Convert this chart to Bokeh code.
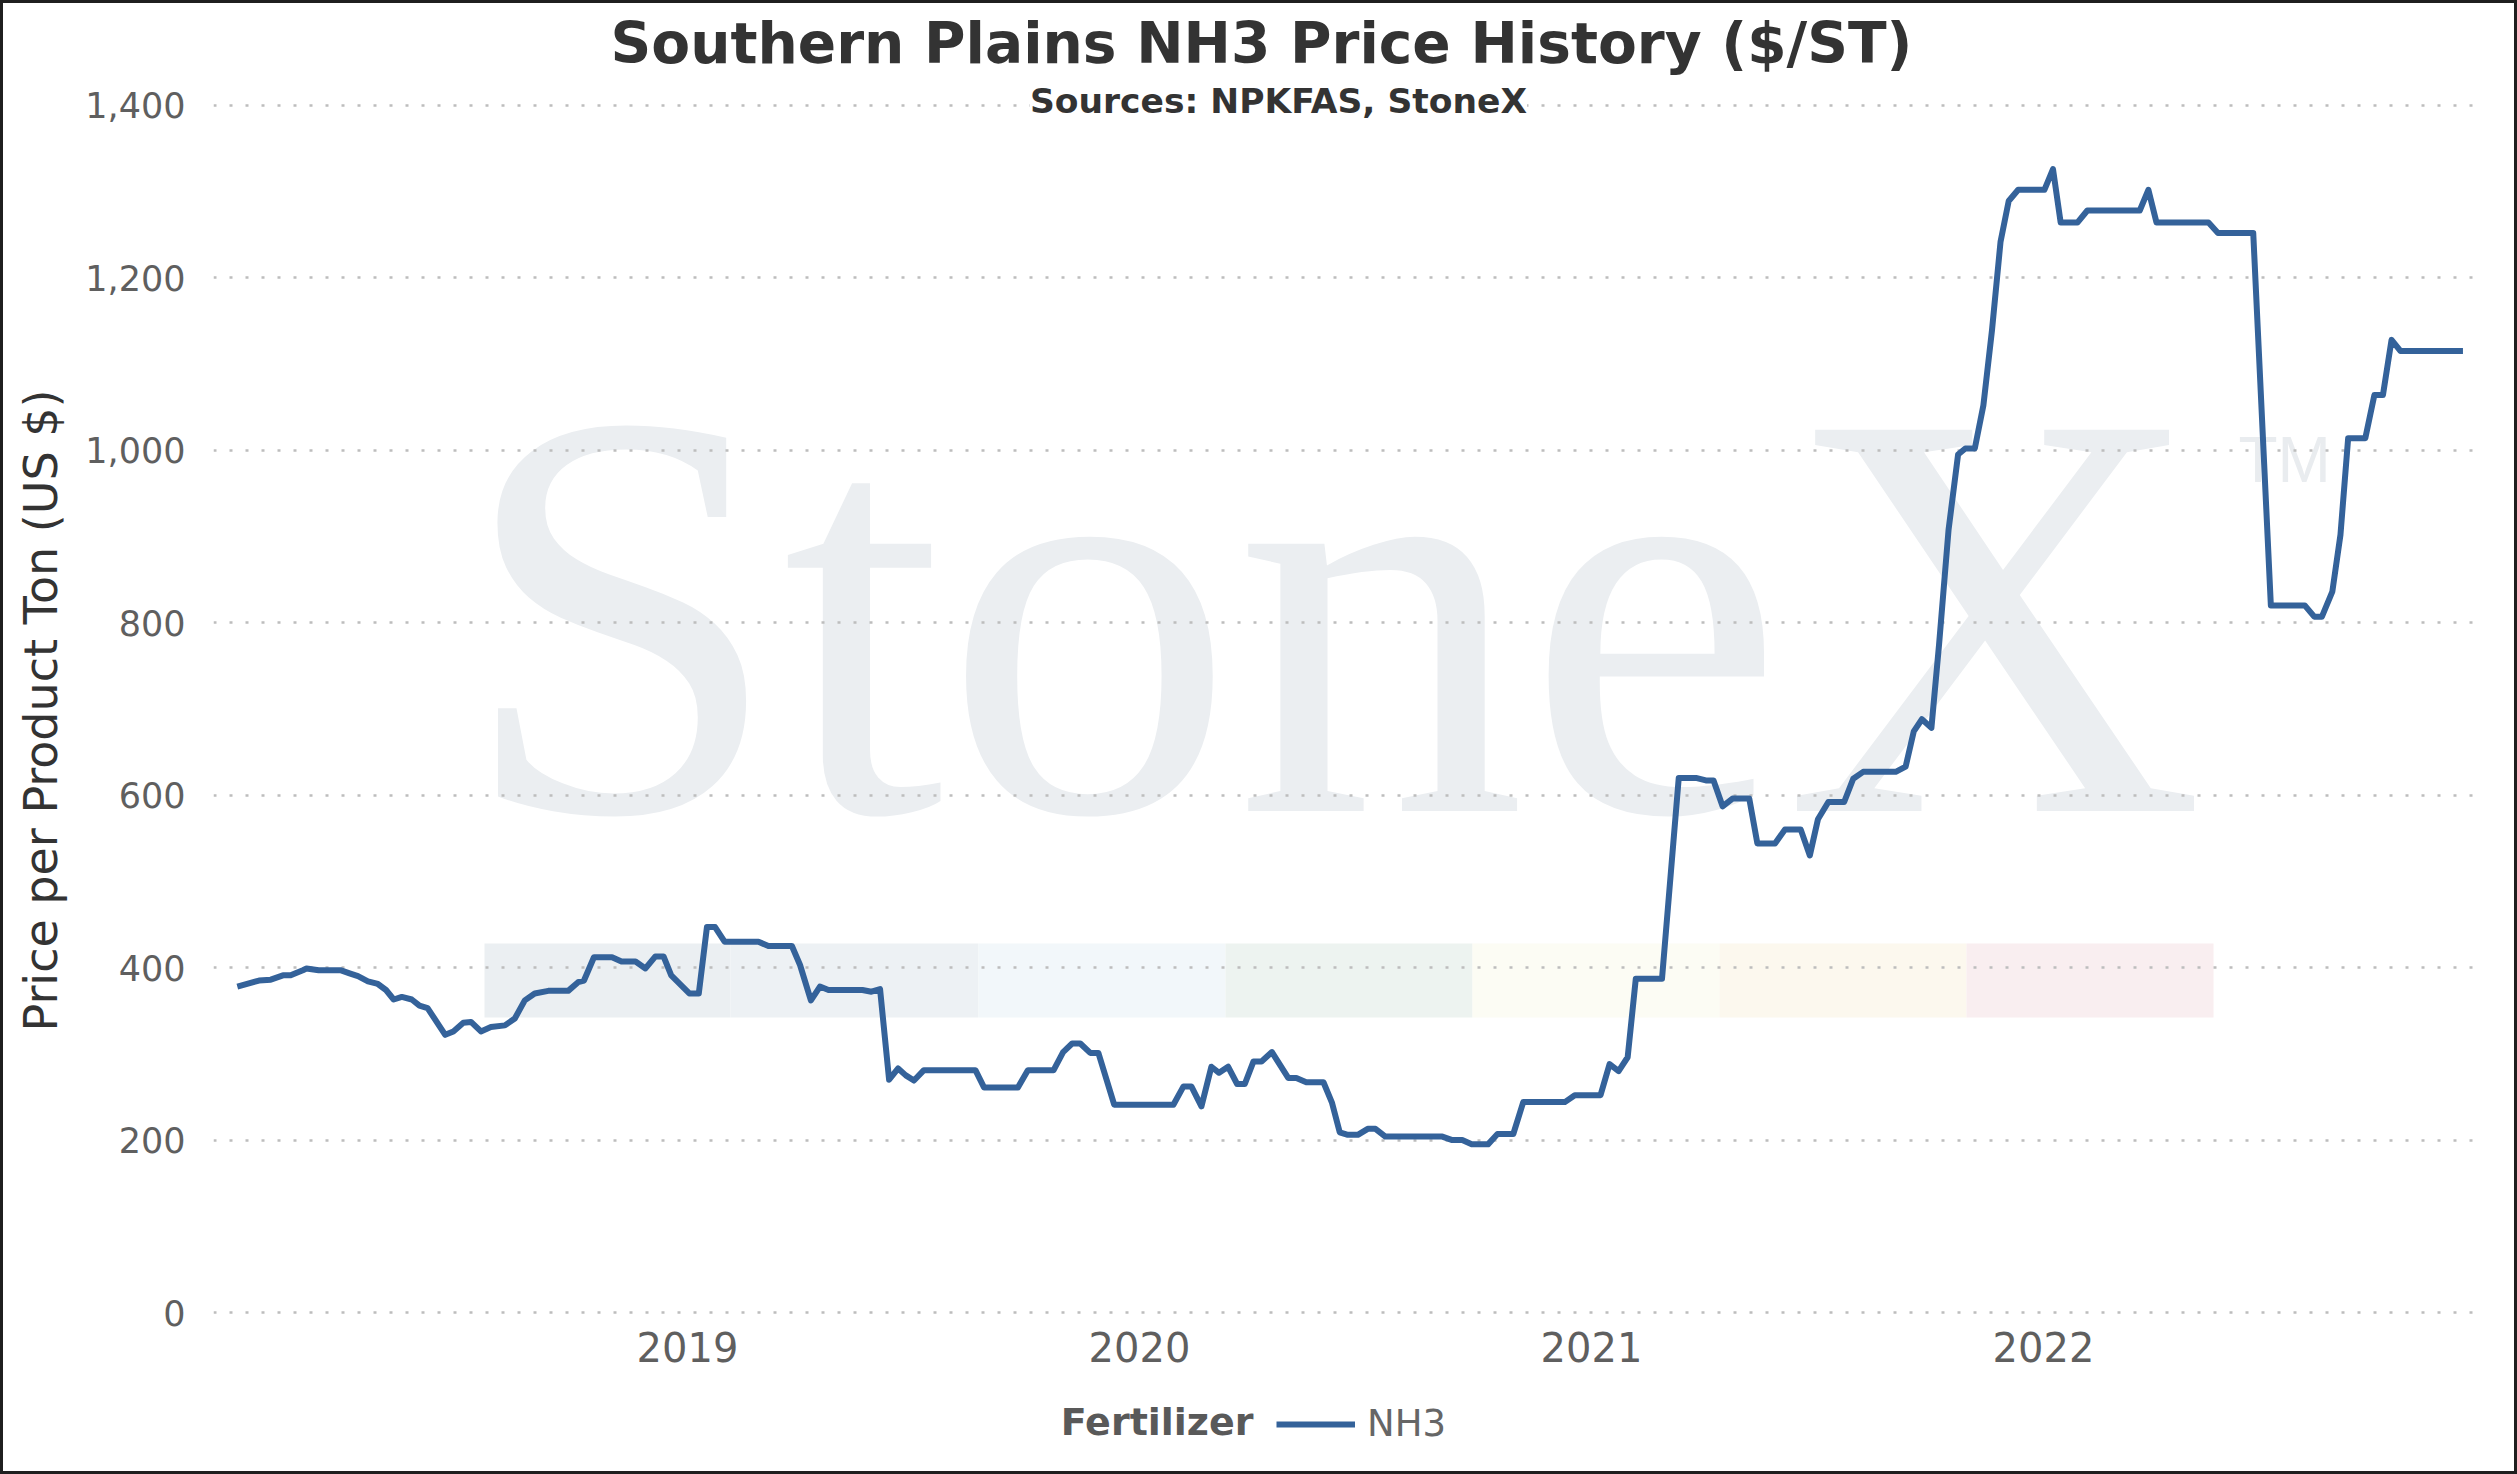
from bokeh.plotting import figure
from bokeh.layouts import column
from bokeh.models import (Range1d, FixedTicker, NumeralTickFormatter, Label, Legend, LegendItem, Title)
from bokeh.core.properties import value
from bokeh.embed import file_html
from bokeh.resources import INLINE

# ---------------- data ----------------
# x = date as fractional year, y = $/ST
year_frac = [
    2018.004, 2018.052, 2018.078, 2018.105, 2018.122, 2018.149, 2018.157, 2018.184, 2018.232, 2018.254,
    2018.271, 2018.293, 2018.315, 2018.333, 2018.350, 2018.368, 2018.390, 2018.407, 2018.425, 2018.464,
    2018.482, 2018.504, 2018.521, 2018.543, 2018.565, 2018.596, 2018.618, 2018.640, 2018.662, 2018.692,
    2018.736, 2018.758, 2018.771, 2018.793, 2018.833, 2018.854, 2018.885, 2018.907, 2018.929, 2018.947,
    2018.964, 2019.004, 2019.025, 2019.043, 2019.061, 2019.082, 2019.157, 2019.179, 2019.231, 2019.249,
    2019.273, 2019.293, 2019.312, 2019.387, 2019.407, 2019.426, 2019.446, 2019.466, 2019.483, 2019.501,
    2019.523, 2019.637, 2019.656, 2019.731, 2019.753, 2019.810, 2019.831, 2019.851, 2019.869, 2019.891,
    2019.909, 2019.944, 2020.075, 2020.097, 2020.115, 2020.137, 2020.159, 2020.176, 2020.196, 2020.216,
    2020.233, 2020.252, 2020.270, 2020.293, 2020.329, 2020.347, 2020.369, 2020.407, 2020.426, 2020.443,
    2020.461, 2020.483, 2020.505, 2020.522, 2020.544, 2020.670, 2020.692, 2020.714, 2020.735, 2020.771,
    2020.792, 2020.827, 2020.849, 2020.941, 2020.963, 2021.020, 2021.040, 2021.060, 2021.080, 2021.098,
    2021.156, 2021.193, 2021.231, 2021.253, 2021.270, 2021.290, 2021.312, 2021.349, 2021.367, 2021.406,
    2021.428, 2021.463, 2021.483, 2021.501, 2021.524, 2021.559, 2021.579, 2021.601, 2021.673, 2021.695,
    2021.713, 2021.731, 2021.752, 2021.769, 2021.790, 2021.811, 2021.827, 2021.848, 2021.867, 2021.886,
    2021.905, 2021.923, 2021.944, 2022.002, 2022.021, 2022.038, 2022.075, 2022.097, 2022.213, 2022.232,
    2022.250, 2022.365, 2022.386, 2022.464, 2022.503, 2022.578, 2022.599, 2022.616, 2022.639, 2022.657,
    2022.674, 2022.712, 2022.732, 2022.751, 2022.770, 2022.790, 2022.928,
]
nh3_price = [
    378, 385, 386, 391, 391, 397, 399, 397, 397, 393,
    390, 384, 381, 374, 363, 366, 363, 356, 353, 322,
    326, 336, 337, 326, 331, 333, 341, 362, 370, 373,
    373, 383, 385, 412, 412, 407, 407, 399, 413, 413,
    391, 370, 370, 447, 447, 430, 430, 425, 425, 403,
    362, 378, 374, 374, 372, 375, 270, 283, 275, 269,
    281, 281, 261, 261, 281, 281, 302, 312, 312, 301,
    301, 241, 241, 262, 262, 239, 285, 278, 285, 265,
    265, 291, 291, 302, 272, 272, 267, 267, 243, 209,
    206, 206, 213, 213, 204, 204, 200, 200, 195, 195,
    207, 207, 244, 244, 252, 252, 288, 280, 296, 387,
    387, 620, 620, 617, 617, 587, 596, 596, 544, 544,
    560, 560, 530, 572, 592, 592, 619, 627, 627, 633,
    674, 688, 678, 775, 908, 995, 1002, 1002, 1052, 1139,
    1242, 1289, 1302, 1302, 1326, 1264, 1264, 1278, 1278, 1302,
    1264, 1264, 1252, 1252, 820, 820, 807, 807, 836, 902,
    1014, 1014, 1064, 1064, 1128, 1115, 1115,
]
series_name = "NH3"
legend_title = "Fertilizer"
year_ticks = [2019, 2020, 2021, 2022]
price_ticks = [0, 200, 400, 600, 800, 1000, 1200, 1400]
title_text = "Southern Plains NH3 Price History ($/ST)"
subtitle_text = "Sources: NPKFAS, StoneX"
y_label = "Price per Product Ton (US $)"
watermark_text = "StoneX"
stripe_colors = ["#EBEFF2", "#EDF1F4", "#F2F7FA", "#EDF3F0", "#FCFCF4", "#FCF8EE", "#F9EEF0"]

LINE_COLOR = "#34629A"

# ---------------- layout geometry (page px) ----------------
PAGE_W, PAGE_H = 2517, 1474
B = 3                          # page border width
W = PAGE_W - 2 * B             # figure widths
SPLIT = 1386                   # page y where the legend strip starts
H1 = SPLIT - B                 # main figure height
H2 = PAGE_H - B - SPLIT        # legend strip height
FL, FR, FT, FB = 213, 2482, 80, 1340   # frame edges, page px
PPY = 452.0                    # px per year
X2019 = 687.0                  # page px of 2019 tick
ZERO = 1312.0                  # page px of y = 0
PPU = (ZERO - 104.8) / 1400.0  # px per $ unit

x0 = 2019 - (X2019 - FL) / PPY
x1 = 2019 + (FR - X2019) / PPY
y0 = -(FB - ZERO) / PPU
y1 = (ZERO - FT) / PPU


def dx(px):
    return x0 + (px - FL) / PPY


def dy(py):
    return (ZERO - py) / PPU


MID = 0.3386   # 'middle' text baseline offset (em) above the alphabetic baseline

title = Title(text=title_text, align="left", offset=397, standoff=9,
              text_font="DejaVu Sans", text_font_style="bold", text_font_size="56.6px",
              text_color="#333333")

p = figure(width=W, height=H1, output_backend="svg", toolbar_location=None, title=title,
           x_range=Range1d(x0, x1), y_range=Range1d(y0, y1),
           min_border_left=FL - B, min_border_right=(B + W) - FR, min_border_top=FT - B,
           min_border_bottom=SPLIT - FB, background_fill_color="white",
           border_fill_color="white", outline_line_color=None)

# watermark (decoration, under the grid)
sx = [484, 730, 978, 1225, 1472, 1719, 1966, 2213]
p.quad(left=[dx(v) for v in sx[:-1]], right=[dx(v) for v in sx[1:]],
       top=dy(943), bottom=dy(1017), fill_color=stripe_colors,
       line_color=None, level="image")
WM = 582
p.text(x=[dx(458)], y=[dy(811 - MID * WM)], text=[watermark_text],
       text_font=value("Liberation Serif"), text_font_size=value(f"{WM}px"),
       text_color="#EBEEF1", text_align="left", text_baseline="middle", level="image")
TMS = 64
p.text(x=[dx(2238)], y=[dy(481 - MID * TMS)], text=["TM"], text_font=value("Liberation Sans"),
       text_font_size=value(f"{TMS}px"), text_color="#E9ECEF", text_align="left",
       text_baseline="middle", level="image")

# data line
r = p.line(year_frac, nh3_price, line_color=LINE_COLOR, line_width=6, line_join="round")

# axes
p.xaxis.ticker = FixedTicker(ticks=year_ticks)
p.yaxis.ticker = FixedTicker(ticks=price_ticks)
p.yaxis.formatter = NumeralTickFormatter(format="0,0")
for ax in (p.xaxis, p.yaxis):
    ax.axis_line_color = None
    ax.major_tick_line_color = None
    ax.minor_tick_line_color = None
    ax.major_tick_out = 0
    ax.major_tick_in = 0
    ax.major_label_text_font = "DejaVu Sans"
    ax.major_label_text_color = "#5F5F5F"
p.yaxis.major_label_text_font_size = "35px"
p.xaxis.major_label_text_font_size = "40px"
p.yaxis.major_label_standoff = 28
p.xaxis.major_label_standoff = 15 - (FB - 1316)
p.yaxis.axis_label = y_label
p.yaxis.axis_label_text_font = "DejaVu Sans"
p.yaxis.axis_label_text_font_style = "normal"
p.yaxis.axis_label_text_font_size = "46px"
p.yaxis.axis_label_text_color = "#333333"
p.yaxis.axis_label_standoff = 14

p.xgrid.grid_line_color = None
p.ygrid.grid_line_color = "#BDBDBD"
p.ygrid.grid_line_width = 2.5
p.ygrid.grid_line_dash = "3 13"

p.add_layout(Label(x=dx(1278), y=dy(100.2), text=subtitle_text, text_align="center",
                   text_baseline="middle", text_font="DejaVu Sans", text_font_style="bold",
                   text_font_size="34.5px", text_color="#333333",
                   background_fill_color="white"))

# ---------------- legend strip (frame aligned with the main plot) ----------------
p2 = figure(width=W, height=H2, output_backend="svg", toolbar_location=None, title=None,
            x_range=Range1d(FL, FR), y_range=Range1d(PAGE_H - B, SPLIT),
            min_border_left=FL - B, min_border_right=(B + W) - FR, min_border_top=0,
            min_border_bottom=0, x_axis_location=None, y_axis_location=None,
            outline_line_color=None, background_fill_color="white", border_fill_color="white")
p2.grid.visible = False
# legend key renderer: a single vertex of the series (draws no visible mark)
legend_key = p2.line(x=year_frac[:1], y=nh3_price[:1], line_color=LINE_COLOR, line_width=6)
LEG_H = 44
legend = Legend(items=[LegendItem(label=series_name, renderers=[legend_key])],
                location=(1276 - FL, (PAGE_H - B) - (1423.5 + LEG_H / 2)),
                orientation="horizontal", padding=0, margin=0, border_line_color=None,
                background_fill_alpha=0, glyph_width=79, glyph_height=LEG_H,
                label_height=LEG_H, label_standoff=12,
                label_text_font="DejaVu Sans", label_text_font_size="37px",
                label_text_color="#666666")
p2.add_layout(legend, "center")
p2.add_layout(Label(x=1253, y=1421.8, text=legend_title, text_align="right",
                    text_baseline="middle", text_font="DejaVu Sans", text_font_style="bold",
                    text_font_size="38px", text_color="#595959"))

layout = column(p, p2, spacing=0, styles={"border": f"{B}px solid #1f1f1f"})

open("out.html", "w").write(file_html(layout, INLINE))
